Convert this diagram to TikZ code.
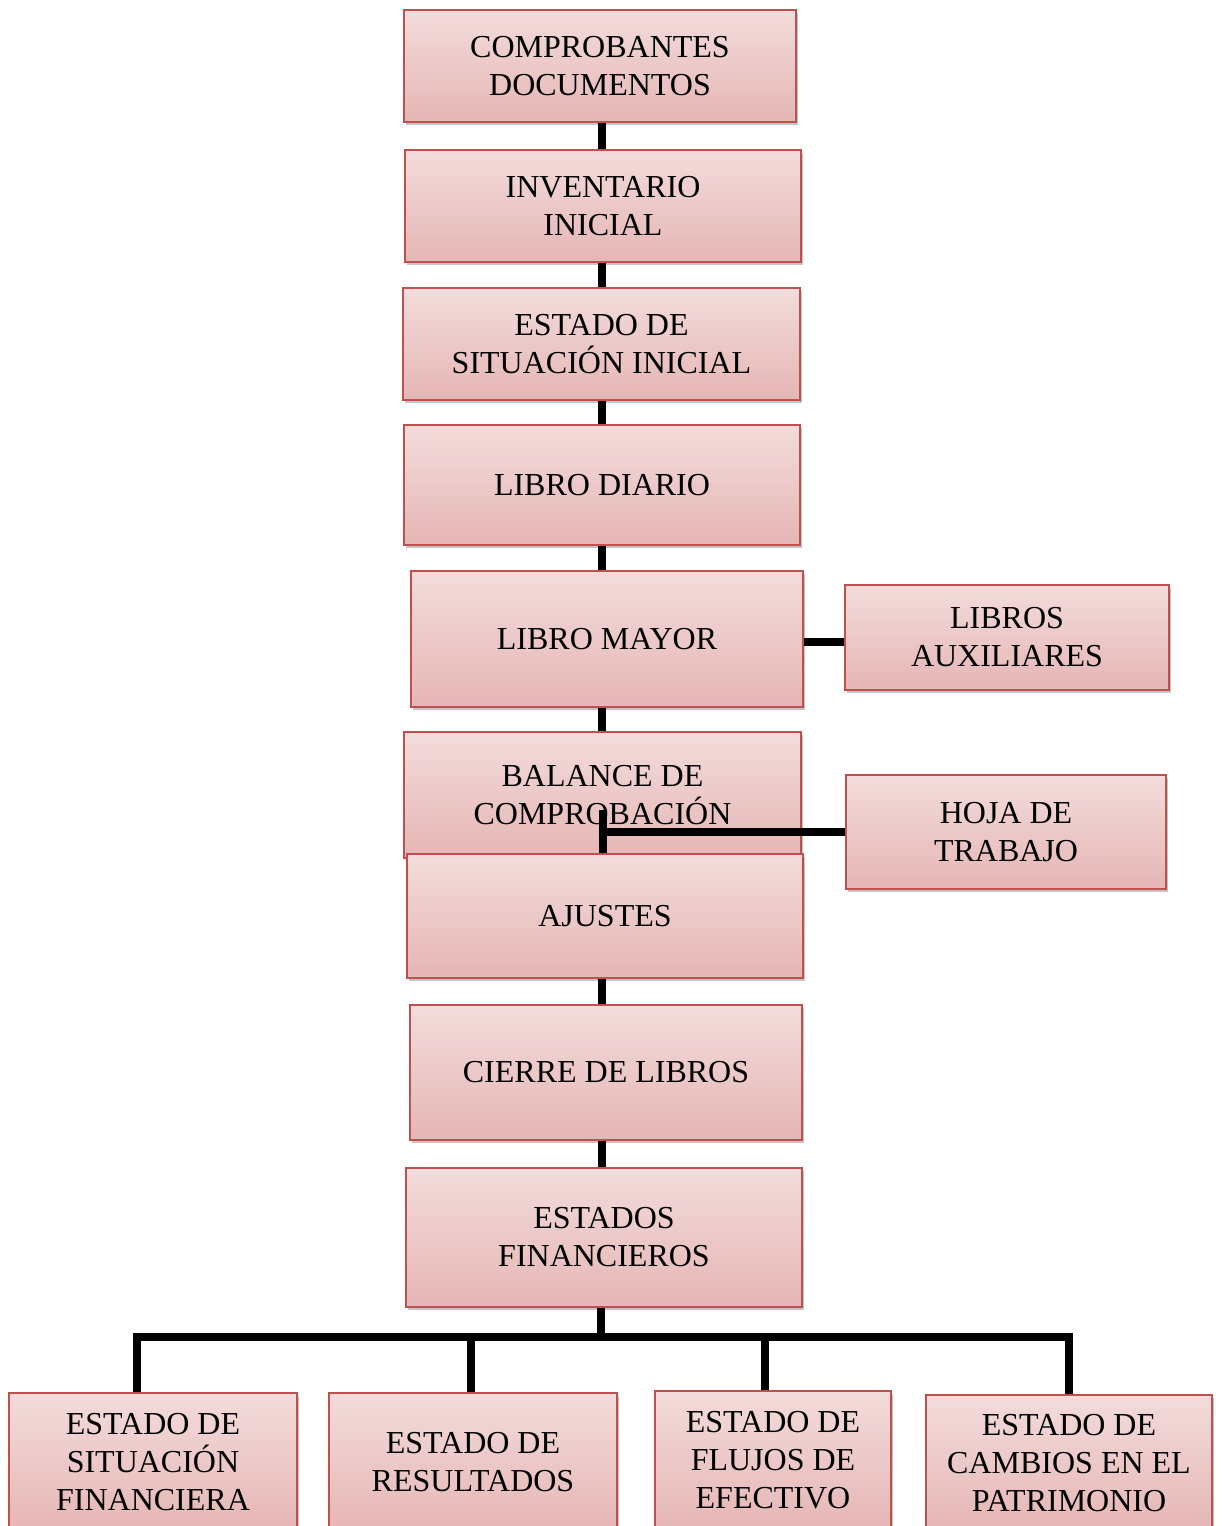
\documentclass[tikz,border=0pt]{standalone}
\usepackage{fontspec}
\setmainfont{Liberation Serif}
\usetikzlibrary{shadows}
\definecolor{boxtop}{HTML}{F2DCDB}
\definecolor{boxbot}{HTML}{E5B6B5}
\definecolor{boxline}{HTML}{C0504D}
\tikzset{
  box/.style={draw=boxline, line width=1.8pt, top color=boxtop, bottom color=boxbot,
    align=center, inner sep=0pt, font=\fontsize{32}{38}\selectfont,
    drop shadow={shadow xshift=2pt, shadow yshift=-3pt, fill=black!45, opacity=0.5}},
  conn/.style={line width=8pt, black, line cap=butt, line join=miter}
}
\begin{document}
\begin{tikzpicture}[x=1pt,y=-1pt]
\useasboundingbox (0,0) rectangle (1222,1526);
\node[box, minimum width=392pt, minimum height=112pt] (comp) at (600,66) {COMPROBANTES\\DOCUMENTOS};
\node[box, minimum width=396pt, minimum height=112pt] (inv) at (603,206) {INVENTARIO\\INICIAL};
\node[box, minimum width=397pt, minimum height=112pt] (esi) at (601.5,344) {ESTADO DE\\SITUACIÓN INICIAL};
\node[box, minimum width=396pt, minimum height=120pt] (diario) at (602,485) {LIBRO DIARIO};
\node[box, minimum width=392pt, minimum height=136pt] (mayor) at (607,639) {LIBRO MAYOR};
\node[box, minimum width=324pt, minimum height=105pt] (aux) at (1007,637.5) {LIBROS\\AUXILIARES};
\node[box, minimum width=397pt, minimum height=126pt] (bal) at (602.5,795) {BALANCE DE\\COMPROBACIÓN};
\node[box, minimum width=320pt, minimum height=114pt] (hoja) at (1006,832) {HOJA DE\\TRABAJO};
\node[box, minimum width=396pt, minimum height=124pt] (ajus) at (605,916) {AJUSTES};
\node[box, minimum width=392pt, minimum height=135pt] (cierre) at (606,1072.5) {CIERRE DE LIBROS};
\node[box, minimum width=396pt, minimum height=139pt] (ef) at (604,1237.5) {ESTADOS\\FINANCIEROS};
\node[box, minimum width=288pt, minimum height=138pt] (esf) at (153,1462) {ESTADO DE\\SITUACIÓN\\FINANCIERA};
\node[box, minimum width=288pt, minimum height=138pt] (eres) at (473,1462) {ESTADO DE\\RESULTADOS};
\node[box, minimum width=236pt, minimum height=138pt] (eflu) at (773,1460) {ESTADO DE\\FLUJOS DE\\EFECTIVO};
\node[box, minimum width=286pt, minimum height=136pt] (ecam) at (1069,1463) {ESTADO DE\\CAMBIOS EN EL\\PATRIMONIO};

\coordinate (v) at (602,0);
\draw[conn] (comp.south -| v) -- (inv.north -| v);
\draw[conn] (inv.south -| v) -- (esi.north -| v);
\draw[conn] (esi.south -| v) -- (diario.north -| v);
\draw[conn] (diario.south -| v) -- (mayor.north -| v);
\draw[conn] (mayor.south -| v) -- (bal.north -| v);
\draw[conn] (mayor.east |- 0,642) -- (aux.west |- 0,642);
\coordinate (hj) at (603,810);
\draw[conn] (hj) -- (ajus.north -| hj);
\draw[conn] (hoja.west) -- (hoja.west -| hj);
\draw[conn] (ajus.south -| v) -- (cierre.north -| v);
\draw[conn] (cierre.south -| v) -- (ef.north -| v);
\coordinate (d1) at (137,1337);
\coordinate (d2) at (471,1337);
\coordinate (d3) at (765,1337);
\coordinate (d4) at (1069,1337);
\draw[conn] (ef.south -| 601,0) -- (601,1337);
\draw[conn] (d1 |- esf.north) -- (d1) -- (d4) -- (d4 |- ecam.north);
\draw[conn] (d2) -- (d2 |- eres.north);
\draw[conn] (d3) -- (d3 |- eflu.north);
\end{tikzpicture}
\end{document}
